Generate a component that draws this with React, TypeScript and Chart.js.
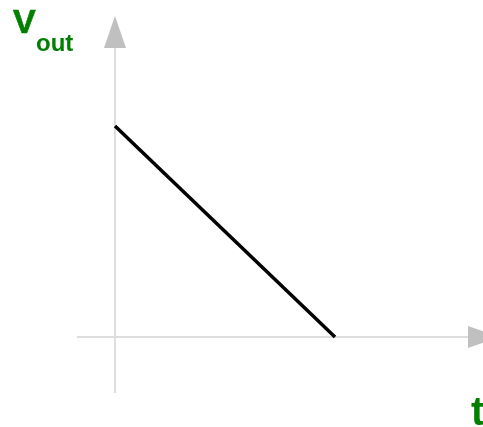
import React, { useEffect, useRef } from "react";
import { Chart, registerables } from "chart.js";

Chart.register(...registerables);

// Data
const tValues = [0, 1];
const voutValues = [1, 0];

// Scale ranges (data units)
const xRange = [-0.5227, 1.6727];
const yRange = [-0.4265, 1.597];

// Axis extents (data units)
const xAxisFrom = -0.1727;
const xAxisArrowBase = 1.6045;
const xAxisArrowTip = 1.75;
const yAxisFrom = -0.265;
const yAxisArrowBase = 1.3697;
const yAxisArrowTip = 1.521;

const axesPlugin = {
  id: "axesArrows",
  beforeDatasetsDraw(chart: any) {
    const { ctx, scales } = chart;
    const xs = scales.x;
    const ys = scales.y;
    const x0 = xs.getPixelForValue(0);
    const y0 = ys.getPixelForValue(0);
    ctx.save();
    ctx.strokeStyle = "#dddddd";
    ctx.lineWidth = 2;
    // horizontal axis
    ctx.beginPath();
    ctx.moveTo(xs.getPixelForValue(xAxisFrom), y0);
    ctx.lineTo(xs.getPixelForValue(xAxisArrowBase), y0);
    ctx.stroke();
    // vertical axis
    ctx.beginPath();
    ctx.moveTo(x0, ys.getPixelForValue(yAxisFrom));
    ctx.lineTo(x0, ys.getPixelForValue(yAxisArrowBase));
    ctx.stroke();
    // arrows
    ctx.fillStyle = "#c0c0c0";
    const hw = 11;
    ctx.beginPath();
    ctx.moveTo(xs.getPixelForValue(xAxisArrowTip), y0);
    ctx.lineTo(xs.getPixelForValue(xAxisArrowBase), y0 - hw);
    ctx.lineTo(xs.getPixelForValue(xAxisArrowBase), y0 + hw);
    ctx.closePath();
    ctx.fill();
    ctx.beginPath();
    ctx.moveTo(x0, ys.getPixelForValue(yAxisArrowTip));
    ctx.lineTo(x0 - hw, ys.getPixelForValue(yAxisArrowBase));
    ctx.lineTo(x0 + hw, ys.getPixelForValue(yAxisArrowBase));
    ctx.closePath();
    ctx.fill();
    ctx.restore();
  },
};

export default function App() {
  const canvasRef = useRef<HTMLCanvasElement | null>(null);

  useEffect(() => {
    if (!canvasRef.current) return;
    const chart = new Chart(canvasRef.current, {
      type: "line",
      data: {
        datasets: [
          {
            data: tValues.map((t, i) => ({ x: t, y: voutValues[i] })),
            borderColor: "#000000",
            borderWidth: 3.5,
            pointRadius: 0,
            fill: false,
            tension: 0,
          },
        ],
      },
      options: {
        animation: false,
        responsive: false,
        maintainAspectRatio: false,
        layout: { padding: 0 },
        plugins: { legend: { display: false }, tooltip: { enabled: false } },
        scales: {
          x: { type: "linear", min: xRange[0], max: xRange[1], display: false },
          y: { type: "linear", min: yRange[0], max: yRange[1], display: false },
        },
      },
      plugins: [axesPlugin],
    });
    return () => chart.destroy();
  }, []);

  const labelStyle: React.CSSProperties = {
    position: "absolute",
    fontFamily: "'Liberation Sans', Arial, sans-serif",
    fontWeight: "bold",
    color: "#008000",
    whiteSpace: "nowrap",
  };

  return (
    <div style={{ position: "fixed", left: 0, top: 0, width: 483, height: 427, background: "#ffffff", overflow: "hidden" }}>
      <canvas ref={canvasRef} width={483} height={427} style={{ position: "absolute", left: 0, top: 0 }} />
      <span style={{ ...labelStyle, left: 13, top: 4, fontSize: 34, lineHeight: "34px", WebkitTextStroke: "0.6px #008000" }}>V</span>
      <span style={{ ...labelStyle, left: 36, top: 31, fontSize: 24, lineHeight: "24px" }}>out</span>
      <span style={{ ...labelStyle, left: 471, top: 391, fontSize: 40, lineHeight: "40px" }}>t</span>
    </div>
  );
}
